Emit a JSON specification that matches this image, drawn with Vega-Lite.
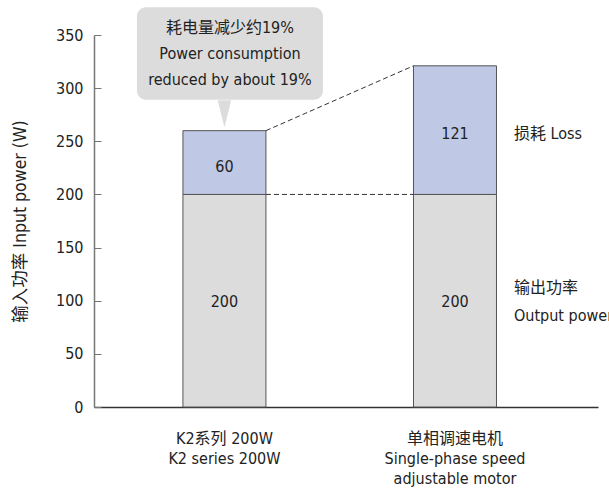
{
  "$schema": "https://vega.github.io/schema/vega-lite/v6.json",
  "width": 504,
  "height": 372,
  "autosize": "none",
  "padding": {"left": 94, "top": 35, "right": 11, "bottom": 85},
  "background": "white",
  "config": {
    "font": "Liberation Sans Narrow, DejaVu Sans Condensed, Noto Sans CJK SC",
    "view": {"stroke": null},
    "axis": {"grid": false, "labelFont": "Liberation Sans Narrow, DejaVu Sans Condensed, Noto Sans CJK SC", "titleFont": "Liberation Sans Narrow, DejaVu Sans Condensed, Noto Sans CJK SC"},
    "text": {"font": "Liberation Sans Narrow, DejaVu Sans Condensed, Noto Sans CJK SC"}
  },
  "datasets": {
    "bars": [
      {"cat": "K2系列 200W\nK2 series 200W", "part": "output", "value": 200, "ord": 1},
      {"cat": "K2系列 200W\nK2 series 200W", "part": "loss", "value": 60, "ord": 2},
      {"cat": "单相调速电机\nSingle-phase speed\nadjustable motor", "part": "output", "value": 200, "ord": 1},
      {"cat": "单相调速电机\nSingle-phase speed\nadjustable motor", "part": "loss", "value": 121, "ord": 2}
    ],
    "seglabels": [
      {"cat": "K2系列 200W\nK2 series 200W", "mid": 99, "label": "200"},
      {"cat": "K2系列 200W\nK2 series 200W", "mid": 226, "label": "60"},
      {"cat": "单相调速电机\nSingle-phase speed\nadjustable motor", "mid": 99, "label": "200"},
      {"cat": "单相调速电机\nSingle-phase speed\nadjustable motor", "mid": 257, "label": "121"}
    ],
    "links": [
      {"cat": "K2系列 200W\nK2 series 200W", "cat2": "单相调速电机\nSingle-phase speed\nadjustable motor", "ya": 260, "yb": 321},
      {"cat": "K2系列 200W\nK2 series 200W", "cat2": "单相调速电机\nSingle-phase speed\nadjustable motor", "ya": 200, "yb": 200}
    ],
    "callout": [
      {"cat": "K2系列 200W\nK2 series 200W", "top": 376, "bottom": 289, "tip": 276, "first": 356.5, "label": "耗电量减少约19%\nPower consumption\nreduced by about 19%"}
    ],
    "side": [
      {"cat": "单相调速电机\nSingle-phase speed\nadjustable motor", "y": 257, "label": "损耗 Loss"},
      {"cat": "单相调速电机\nSingle-phase speed\nadjustable motor", "y": 112, "label": "输出功率\nOutput power"}
    ]
  },
  "encoding": {
    "x": {
      "field": "cat",
      "type": "nominal",
      "sort": null,
      "scale": {"paddingInner": 0.64, "paddingOuter": 0.413, "align": 0.467},
      "axis": {
        "title": null,
        "labelAngle": 0,
        "ticks": false,
        "domainColor": "#333333",
        "domainWidth": 1.5,
        "labelFontSize": 16,
        "labelColor": "#222222",
        "labelPadding": 23,
        "labelLineHeight": 20,
        "labelBaseline": "top",
        "labelExpr": "split(datum.label, '\\n')"
      }
    }
  },
  "layer": [
    {
      "data": {"name": "callout"},
      "mark": {"type": "bar", "width": 186, "xOffset": 5.5, "cornerRadius": 9, "fill": "#dcdcdc"},
      "encoding": {
        "y": {"field": "top", "type": "quantitative", "scale": {"domain": [0, 350], "nice": false}},
        "y2": {"field": "bottom"}
      }
    },
    {
      "data": {"name": "callout"},
      "mark": {"type": "point", "shape": "M-0.5,-1L0.5,-1L0,1Z", "size": 729, "filled": true, "opacity": 1, "color": "#dcdcdc", "strokeWidth": 0},
      "encoding": {
        "y": {"field": "tip", "type": "quantitative"}
      }
    },
    {
      "data": {"name": "callout"},
      "mark": {"type": "text", "fontSize": 16, "color": "#222222", "lineBreak": "\n", "lineHeight": 26, "xOffset": 5.5, "baseline": "middle"},
      "encoding": {
        "y": {"field": "first", "type": "quantitative"},
        "text": {"field": "label"}
      }
    },
    {
      "data": {"name": "bars"},
      "mark": {"type": "bar", "stroke": "#555555", "strokeWidth": 1},
      "encoding": {
        "y": {
          "field": "value",
          "type": "quantitative",
          "stack": "zero",
          "scale": {"domain": [0, 350], "nice": false},
          "axis": {
            "title": "输入功率 Input power (W)",
            "titleFontSize": 17.5,
            "titleFontWeight": "normal",
            "titleColor": "#222222",
            "titlePadding": 26,
            "values": [0, 50, 100, 150, 200, 250, 300, 350],
            "labelFontSize": 16,
            "labelColor": "#222222",
            "labelPadding": 18,
            "tickSize": -7,
            "tickColor": "#777777",
            "domainColor": "#777777",
            "domainWidth": 1.5
          }
        },
        "color": {
          "field": "part",
          "type": "nominal",
          "scale": {"domain": ["output", "loss"], "range": ["#dcdcdc", "#bfc8e4"]},
          "legend": null
        },
        "order": {"field": "ord"}
      }
    },
    {
      "data": {"name": "seglabels"},
      "mark": {"type": "text", "fontSize": 16, "color": "#222222", "baseline": "middle"},
      "encoding": {
        "y": {"field": "mid", "type": "quantitative"},
        "text": {"field": "label"}
      }
    },
    {
      "data": {"name": "links"},
      "mark": {"type": "rule", "strokeDash": [5, 3], "color": "#333333", "strokeWidth": 1, "xOffset": 41.5, "x2Offset": -41.5},
      "encoding": {
        "x2": {"field": "cat2"},
        "y": {"field": "ya", "type": "quantitative"},
        "y2": {"field": "yb"}
      }
    },
    {
      "data": {"name": "side"},
      "mark": {"type": "text", "fontSize": 16, "color": "#222222", "align": "left", "baseline": "middle", "xOffset": 59, "lineBreak": "\n", "lineHeight": 28},
      "encoding": {
        "y": {"field": "y", "type": "quantitative"},
        "text": {"field": "label"}
      }
    }
  ]
}
